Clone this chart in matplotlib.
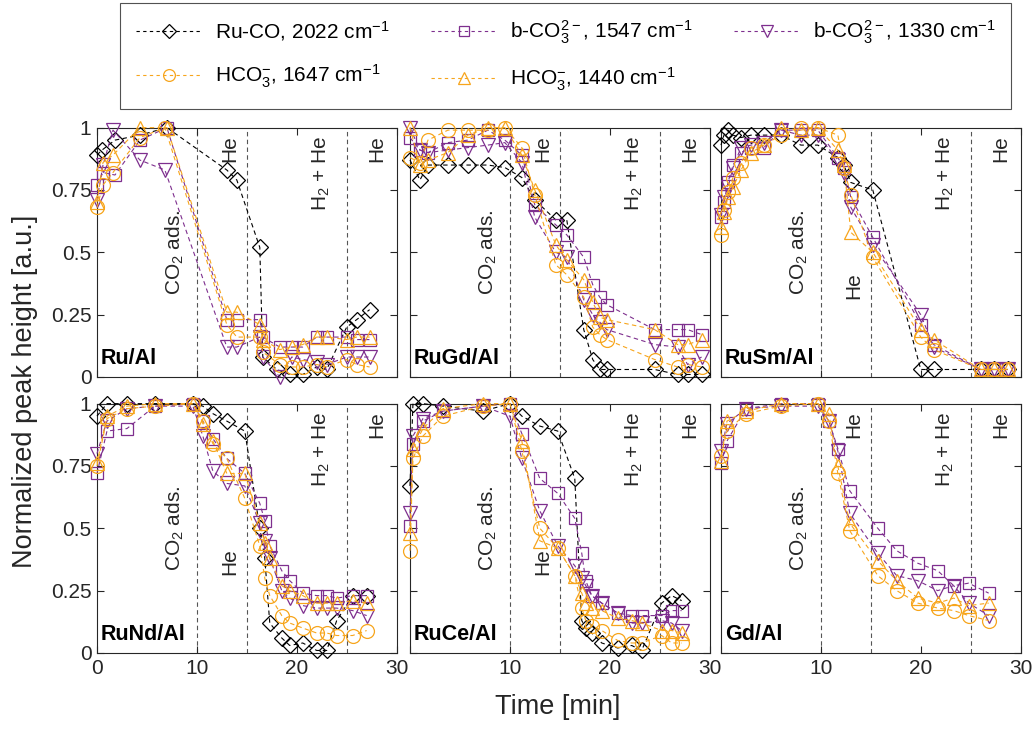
import numpy as np
import matplotlib
matplotlib.use("Agg")
import matplotlib.pyplot as plt
from matplotlib.lines import Line2D

plt.rcParams["font.family"] = ["Liberation Sans", "DejaVu Sans"]
plt.rcParams["mathtext.default"] = "regular"

BLACK = "#000000"
PURPLE = "#7E2F8E"
ORANGE = "#F7A51C"

# ---- data (time in min, normalized height) ----
# Ru/Al
ru_t_co = [0, 0.5, 1.8, 4.3, 7, 13, 14, 16.3, 16.6, 18, 19.3, 20.6, 22, 23, 25, 26, 27.3]
ru_v_co = [0.89, 0.91, 0.95, 0.97, 1.0, 0.83, 0.79, 0.52, 0.08, 0.03, 0.01, 0.01, 0.04, 0.03, 0.2, 0.23, 0.27]
ru_t_b1 = [0, 0.6, 1.8, 4.3, 7, 13, 14, 16.3, 16.6, 18.3, 19.5, 20.6, 22, 23, 25, 26, 27.3]
ru_v_b1 = [0.77, 0.82, 0.81, 0.95, 1.0, 0.23, 0.23, 0.23, 0.16, 0.12, 0.12, 0.12, 0.16, 0.16, 0.16, 0.15, 0.15]
ru_t_b2 = [0, 0.6, 1.6, 4.3, 6.8, 13, 14, 16.3, 16.6, 18.3, 19.5, 20.6, 22, 23, 25, 26, 27.3]
ru_v_b2 = [0.71, 0.85, 0.99, 0.87, 0.83, 0.12, 0.12, 0.16, 0.08, 0.0, 0.08, 0.07, 0.06, 0.05, 0.08, 0.08, 0.08]
ru_t_h1 = [0, 0.6, 1.6, 4.3, 6.8, 13, 14, 16.3, 16.6, 18.3, 19.5, 20.6, 22, 23, 25, 26, 27.3]
ru_v_h1 = [0.68, 0.77, 0.82, 0.96, 1.0, 0.21, 0.16, 0.16, 0.1, 0.05, 0.04, 0.04, 0.05, 0.04, 0.07, 0.05, 0.04]
ru_t_h2 = [0, 0.6, 1.6, 4.3, 7, 13, 14, 16.3, 16.6, 18.3, 19.5, 20.6, 22, 23, 25, 26, 27.3]
ru_v_h2 = [0.7, 0.86, 0.89, 1.0, 1.0, 0.26, 0.26, 0.21, 0.15, 0.11, 0.12, 0.13, 0.16, 0.16, 0.15, 0.16, 0.16]

# RuGd/Al
gd_t = [0, 1, 1.8, 3.8, 5.8, 7.8, 9.5, 11.2, 12.5, 14.6, 15.7, 17.4, 18.3, 19.0, 19.7, 24.5, 26.8, 27.8, 29.2]
rugd_v_co = [0.87, 0.79, 0.85, 0.85, 0.85, 0.85, 0.84, 0.8, 0.71, 0.63, 0.63, 0.19, 0.07, 0.03, 0.03, 0.03, 0.01, 0.01, 0.01]
rugd_v_b1 = [0.96, 0.91, 0.9, 0.94, 0.95, 0.99, 0.95, 0.89, 0.69, 0.61, 0.57, 0.48, 0.37, 0.32, 0.29, 0.19, 0.19, 0.19, 0.17]
rugd_v_b2 = [1.0, 0.91, 0.9, 0.91, 0.92, 0.93, 0.94, 0.86, 0.64, 0.5, 0.48, 0.31, 0.25, 0.22, 0.19, 0.13, 0.12, 0.05, 0.08]
rugd_v_h1 = [0.88, 0.86, 0.95, 0.99, 0.99, 0.99, 1.0, 0.92, 0.73, 0.45, 0.41, 0.32, 0.2, 0.17, 0.15, 0.07, 0.04, 0.05, 0.04]
rugd_v_h2 = [1.0, 0.85, 0.87, 0.9, 0.97, 1.0, 1.0, 0.89, 0.75, 0.53, 0.47, 0.39, 0.3, 0.24, 0.23, 0.19, 0.13, 0.13, 0.15]

# RuSm/Al
sm_t = [0, 0.3, 0.7, 1.2, 2, 3, 4.3, 6, 8, 9.7, 11.7, 12.3, 13, 15.2, 20, 21.3, 26, 27.3, 28.7]
rusm_v_co = [0.93, 0.97, 0.99, 0.97, 0.96, 0.97, 0.97, 0.97, 0.93, 0.93, 0.88, 0.85, 0.78, 0.75, 0.03, 0.03, 0.03, 0.03, 0.03]
rusm_v_b1 = [0.64, 0.7, 0.78, 0.85, 0.9, 0.92, 0.92, 0.99, 0.99, 0.99, 0.88, 0.84, 0.72, 0.56, 0.21, 0.13, 0.03, 0.03, 0.03]
rusm_v_b2 = [0.65, 0.72, 0.76, 0.84, 0.92, 0.93, 0.94, 0.99, 0.97, 0.97, 0.87, 0.82, 0.68, 0.53, 0.25, 0.12, 0.03, 0.03, 0.03]
rusm_v_h1 = [0.57, 0.67, 0.74, 0.8, 0.86, 0.92, 0.93, 0.97, 1.0, 1.0, 0.97, 0.84, 0.73, 0.48, 0.16, 0.11, 0.03, 0.03, 0.03]
rusm_v_h2 = [0.6, 0.66, 0.72, 0.76, 0.83, 0.9, 0.93, 1.0, 0.99, 1.0, 0.91, 0.85, 0.58, 0.5, 0.19, 0.15, 0.03, 0.03, 0.03]

# RuNd/Al
nd_t = [0, 1, 3, 5.8, 9.6, 10.6, 11.6, 13, 14.8, 16.3, 16.8, 17.3, 18.5, 19.3, 20.6, 22, 23, 24, 25.6, 27]
rund_v_co = [0.95, 1.0, 1.0, 1.0, 1.0, 0.99, 0.96, 0.93, 0.89, 0.5, 0.38, 0.12, 0.06, 0.03, 0.04, 0.01, 0.01, 0.13, 0.23, 0.23]
rund_v_b1 = [0.72, 0.89, 0.9, 0.99, 1.0, 0.93, 0.86, 0.78, 0.72, 0.6, 0.53, 0.43, 0.33, 0.29, 0.24, 0.23, 0.23, 0.22, 0.23, 0.23]
rund_v_b2 = [0.8, 0.93, 0.98, 0.99, 0.99, 0.87, 0.73, 0.68, 0.67, 0.52, 0.45, 0.38, 0.25, 0.22, 0.19, 0.18, 0.18, 0.18, 0.17, 0.15]
rund_v_h1 = [0.75, 0.94, 0.98, 0.99, 1.0, 0.93, 0.84, 0.78, 0.62, 0.43, 0.3, 0.23, 0.15, 0.12, 0.1, 0.08, 0.08, 0.07, 0.07, 0.09]
rund_v_h2 = [0.76, 0.95, 0.99, 1.0, 1.0, 0.92, 0.85, 0.72, 0.72, 0.52, 0.44, 0.38, 0.27, 0.25, 0.23, 0.2, 0.2, 0.2, 0.21, 0.2]

# RuCe/Al
ce_t = [0, 0.3, 1.3, 3.3, 7.3, 10, 11.2, 13.0, 14.8, 16.5, 17.2, 17.6, 18.2, 19.2, 20.8, 22.2, 23.2, 25.2, 26.2, 27.2]
ruce_v_co = [0.67, 1.0, 1.0, 0.99, 0.97, 1.0, 0.95, 0.91, 0.89, 0.7, 0.13, 0.1, 0.08, 0.04, 0.02, 0.03, 0.01, 0.2, 0.23, 0.21]
ruce_v_b1 = [0.51, 0.84, 0.93, 0.97, 0.99, 1.0, 0.88, 0.7, 0.64, 0.54, 0.4, 0.29, 0.23, 0.2, 0.16, 0.15, 0.15, 0.15, 0.17, 0.17]
ruce_v_b2 = [0.56, 0.87, 0.94, 0.97, 0.99, 0.95, 0.78, 0.57, 0.43, 0.35, 0.3, 0.27, 0.23, 0.2, 0.16, 0.12, 0.12, 0.13, 0.12, 0.09]
ruce_v_h1 = [0.41, 0.78, 0.87, 0.95, 0.99, 1.0, 0.81, 0.5, 0.42, 0.31, 0.18, 0.13, 0.11, 0.09, 0.05, 0.04, 0.04, 0.07, 0.04, 0.04]
ruce_v_h2 = [0.48, 0.82, 0.9, 0.98, 1.0, 1.0, 0.85, 0.45, 0.42, 0.31, 0.24, 0.2, 0.18, 0.17, 0.14, 0.13, 0.12, 0.09, 0.09, 0.08]

# Gd/Al (no Ru-CO band)
gd2_t = [0, 0.6, 2.5, 6, 9.7, 10.8, 11.7, 12.9, 15.7, 17.6, 19.7, 21.7, 23.3, 24.8, 26.8]
gdal_v_b1 = [0.76, 0.85, 0.98, 1.0, 1.0, 0.93, 0.82, 0.65, 0.5, 0.41, 0.36, 0.33, 0.27, 0.28, 0.24]
gdal_v_b2 = [0.81, 0.92, 0.98, 0.99, 0.99, 0.93, 0.81, 0.56, 0.4, 0.31, 0.29, 0.25, 0.27, 0.2, 0.15]
gdal_v_h1 = [0.79, 0.89, 0.96, 0.99, 1.0, 0.93, 0.72, 0.49, 0.31, 0.25, 0.2, 0.18, 0.17, 0.15, 0.13]
gdal_v_h2 = [0.77, 0.93, 0.97, 1.0, 1.0, 0.96, 0.75, 0.52, 0.37, 0.29, 0.22, 0.2, 0.22, 0.19, 0.2]

panel_names = ["Ru/Al", "RuGd/Al", "RuSm/Al", "RuNd/Al", "RuCe/Al", "Gd/Al"]
he_low = [False, False, True, True, True, False]

panels = [
    {"co": (ru_t_co, ru_v_co), "b1": (ru_t_b1, ru_v_b1), "b2": (ru_t_b2, ru_v_b2),
     "h1": (ru_t_h1, ru_v_h1), "h2": (ru_t_h2, ru_v_h2)},
    {"co": (gd_t, rugd_v_co), "b1": (gd_t, rugd_v_b1), "b2": (gd_t, rugd_v_b2),
     "h1": (gd_t, rugd_v_h1), "h2": (gd_t, rugd_v_h2)},
    {"co": (sm_t, rusm_v_co), "b1": (sm_t, rusm_v_b1), "b2": (sm_t, rusm_v_b2),
     "h1": (sm_t, rusm_v_h1), "h2": (sm_t, rusm_v_h2)},
    {"co": (nd_t, rund_v_co), "b1": (nd_t, rund_v_b1), "b2": (nd_t, rund_v_b2),
     "h1": (nd_t, rund_v_h1), "h2": (nd_t, rund_v_h2)},
    {"co": (ce_t, ruce_v_co), "b1": (ce_t, ruce_v_b1), "b2": (ce_t, ruce_v_b2),
     "h1": (ce_t, ruce_v_h1), "h2": (ce_t, ruce_v_h2)},
    {"b1": (gd2_t, gdal_v_b1), "b2": (gd2_t, gdal_v_b2),
     "h1": (gd2_t, gdal_v_h1), "h2": (gd2_t, gdal_v_h2)},
]

styles = {
    "co": dict(color=BLACK, marker="D", ms=8, label="Ru-CO, 2022 cm$^{-1}$"),
    "b1": dict(color=PURPLE, marker="s", ms=8.5, label="b-CO$_3^{2-}$, 1547 cm$^{-1}$"),
    "b2": dict(color=PURPLE, marker="v", ms=10.5, label="b-CO$_3^{2-}$, 1330 cm$^{-1}$"),
    "h1": dict(color=ORANGE, marker="o", ms=10, label="HCO$_3^{-}$, 1647 cm$^{-1}$"),
    "h2": dict(color=ORANGE, marker="^", ms=10.5, label="HCO$_3^{-}$, 1440 cm$^{-1}$"),
}
draw_order = ["co", "b1", "b2", "h1", "h2"]

fig = plt.figure(figsize=(10.35, 7.29), dpi=100)

lefts = [0.0937, 0.3961, 0.6966]
bottoms = [0.4829, 0.1043]
w, h = 0.2895, 0.342

axes = []
for i in range(6):
    r, c = divmod(i, 3)
    ax = fig.add_axes([lefts[c], bottoms[r], w, h])
    axes.append(ax)
    for x in [10, 15, 25]:
        ax.axvline(x, color="#555555", ls=(0, (4, 3)), lw=0.8, zorder=1)
    for key in draw_order:
        if key not in panels[i]:
            continue
        t, v = panels[i][key]
        st = styles[key]
        ax.plot(t, v, ls=(0, (4, 3)), lw=0.8, color=st["color"], marker=st["marker"],
                ms=st["ms"], mfc="none", mec=st["color"], mew=0.9, clip_on=False, zorder=3)
    ax.set_xlim(0, 30)
    ax.set_ylim(0, 1)
    ax.set_xticks([0, 10, 20, 30])
    ax.set_yticks([0, 0.25, 0.5, 0.75, 1])
    ax.tick_params(direction="in", top=True, right=True, length=5, width=0.8,
                   labelsize=15, colors="#262626", pad=4)
    for sp in ax.spines.values():
        sp.set_color("#262626")
        sp.set_linewidth(0.8)
    if c == 0:
        ax.set_yticklabels(["0", "0.25", "0.5", "0.75", "1"])
    else:
        ax.set_yticklabels([])
    if r == 1:
        if c == 0:
            ax.set_xticklabels(["0", "10", "20", "30"])
        else:
            ax.set_xticklabels(["", "10", "20", "30"])
    else:
        ax.set_xticklabels([])

    ax.text(7.8, 0.5, "CO$_2$ ads.", rotation=90, ha="center", va="center", fontsize=15, color="#262626")
    if he_low[i]:
        ax.text(13.3, 0.365, "He", rotation=90, ha="center", va="center", fontsize=15, color="#262626")
    else:
        ax.text(13.3, 0.97, "He", rotation=90, ha="center", va="top", fontsize=15, color="#262626")
    ax.text(22.5, 0.97, "H$_2$ + He", rotation=90, ha="center", va="top", fontsize=15, color="#262626")
    ax.text(28.0, 0.97, "He", rotation=90, ha="center", va="top", fontsize=15, color="#262626")
    ax.text(0.4, 0.075, panel_names[i], ha="left", va="center", fontsize=15.5, fontweight="bold")

fig.text(0.539, 0.03, "Time [min]", ha="center", va="center", fontsize=19.5, color="#262626")
fig.text(0.024, 0.463, "Normalized peak height [a.u.]", rotation=90, ha="center", va="center",
         fontsize=19.5, color="#262626")

# legend: column-major order gives the two-row layout of the original
leg_keys = ["co", "h1", "b1", "h2", "b2"]
handles = [Line2D([], [], ls=(0, (3, 3)), lw=0.8, color=styles[k]["color"], marker=styles[k]["marker"],
                  ms=styles[k]["ms"] * 0.85, mfc="none", mec=styles[k]["color"], mew=0.9) for k in leg_keys]
labels = [styles[k]["label"] for k in leg_keys]
leg = fig.legend(handles, labels, loc="upper left", bbox_to_anchor=(0.116, 0.856, 0.861, 0.14),
                 mode="expand", ncol=3, fontsize=15, frameon=True, fancybox=False,
                 handlelength=3.2, columnspacing=1.0, handletextpad=0.6, borderpad=0.75,
                 labelspacing=0.95, borderaxespad=0)
leg.get_frame().set_edgecolor("#262626")
leg.get_frame().set_linewidth(0.8)

fig.savefig("out.png", dpi=100)
